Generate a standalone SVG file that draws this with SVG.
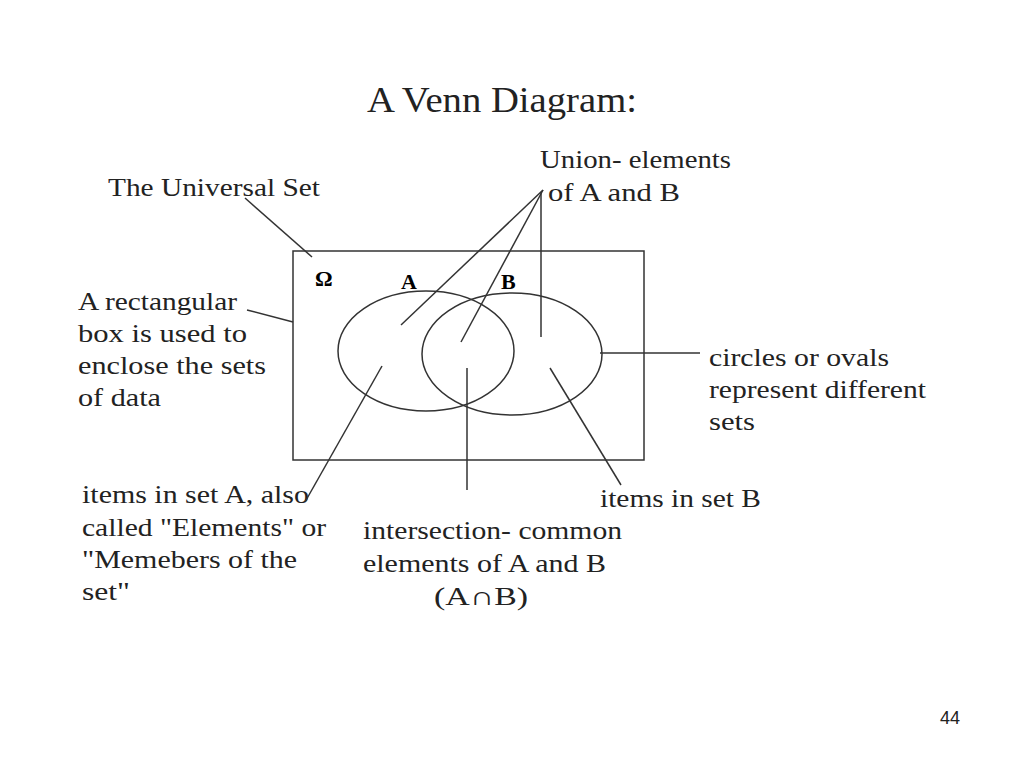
<svg xmlns="http://www.w3.org/2000/svg" width="1024" height="768" viewBox="0 0 1024 768">
<style>
text{font-family:"Liberation Serif","Times New Roman",serif;font-size:26px;fill:#222}
.b{font-weight:bold;font-size:22px;fill:#000}
.s{fill:none;stroke:#333;stroke-width:1.5}
.c{stroke:#333;stroke-width:1.5;fill:none}
</style>
<rect width="1024" height="768" fill="#fff"/>
<text x="367" y="112" style="font-size:36px" textLength="270" lengthAdjust="spacingAndGlyphs">A Venn Diagram:</text>
<g id="universe"><rect class="s" x="293" y="251" width="351" height="209"/><text class="b" x="315" y="286">Ω</text></g>
<g id="setA"><ellipse class="s" cx="426" cy="351" rx="88" ry="60"/><text class="b" x="401" y="289">A</text></g>
<g id="setB"><ellipse class="s" cx="512" cy="354" rx="90" ry="61"/><text class="b" x="501" y="289">B</text></g>
<g id="labels">
<text x="108" y="196" textLength="212" lengthAdjust="spacingAndGlyphs">The Universal Set</text>
<text x="540" y="168" textLength="191" lengthAdjust="spacingAndGlyphs">Union- elements</text>
<text x="548" y="201" textLength="132" lengthAdjust="spacingAndGlyphs">of A and B</text>
<text x="78" y="310" textLength="159" lengthAdjust="spacingAndGlyphs">A rectangular</text>
<text x="78" y="342" textLength="169" lengthAdjust="spacingAndGlyphs">box is used to</text>
<text x="78" y="374" textLength="188" lengthAdjust="spacingAndGlyphs">enclose the sets</text>
<text x="78" y="406" textLength="83" lengthAdjust="spacingAndGlyphs">of data</text>
<text x="709" y="366" textLength="180" lengthAdjust="spacingAndGlyphs">circles or ovals</text>
<text x="709" y="398" textLength="217" lengthAdjust="spacingAndGlyphs">represent different</text>
<text x="709" y="430" textLength="46" lengthAdjust="spacingAndGlyphs">sets</text>
<text x="82" y="503" textLength="227" lengthAdjust="spacingAndGlyphs">items in set A, also</text>
<text x="82" y="536" textLength="244" lengthAdjust="spacingAndGlyphs">called "Elements" or</text>
<text x="82" y="568" textLength="215" lengthAdjust="spacingAndGlyphs">"Memebers of the</text>
<text x="82" y="600" textLength="48" lengthAdjust="spacingAndGlyphs">set"</text>
<text x="363" y="539" textLength="259" lengthAdjust="spacingAndGlyphs">intersection- common</text>
<text x="363" y="572" textLength="243" lengthAdjust="spacingAndGlyphs">elements of A and B</text>
<text x="434" y="605" textLength="94" lengthAdjust="spacingAndGlyphs">(A∩B)</text>
<text x="600" y="507" textLength="161" lengthAdjust="spacingAndGlyphs">items in set B</text>
<text x="940" y="724" style="font-family:'Liberation Sans',Arial,sans-serif;font-size:18px">44</text>
</g>
<g id="connectors" class="c">
<line x1="245" y1="198" x2="312" y2="257"/>
<line x1="543" y1="190" x2="401" y2="325"/>
<line x1="543" y1="190" x2="461" y2="342"/>
<line x1="541" y1="192" x2="541" y2="337"/>
<line x1="247" y1="310" x2="293" y2="322"/>
<line x1="600" y1="353" x2="700" y2="353"/>
<line x1="382" y1="366" x2="305" y2="502"/>
<line x1="467" y1="368" x2="467" y2="490"/>
<line x1="550" y1="368" x2="621" y2="485"/>
</g>
</svg>
